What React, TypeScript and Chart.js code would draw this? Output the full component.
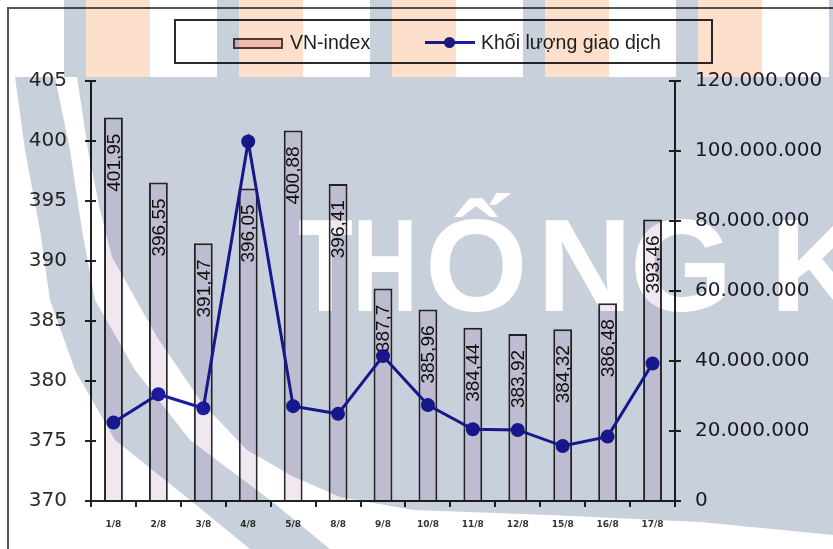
import React, { useEffect, useRef } from "react";
import { Chart, registerables } from "chart.js";

Chart.register(...registerables);

// ---------- data ----------
const categories = ["1/8", "2/8", "3/8", "4/8", "5/8", "8/8", "9/8", "10/8", "11/8", "12/8", "15/8", "16/8", "17/8"];
const vnIndex = [401.95, 396.55, 391.47, 396.05, 400.88, 396.41, 387.7, 385.96, 384.44, 383.92, 384.32, 386.48, 393.46];
const volume = [22400000, 30500000, 26500000, 102700000, 27100000, 24900000, 41400000, 27400000, 20500000, 20300000, 15700000, 18400000, 39300000];
const seriesNames = ["VN-index", "Khối lượng giao dịch"];
const leftAxis = { min: 370, max: 405, step: 5 };
const rightAxis = { min: 0, max: 120000000, step: 20000000 };

// ---------- styling ----------
const W = 833;
const H = 549;
const BAR_FILL = "#f1e7f1";
const BAR_BORDER = "#2a2a2a";
const LINE_COLOR = "#1c1ca0";
const AXIS_COLOR = "#222";
const GRAY = "#c8d0dc";
const ORANGE = "#fde0cc";

const fmtThousands = (v: number) => Math.round(v).toString().replace(/\B(?=(\d{3})+(?!\d))/g, ".");
const fmtDecimal = (v: number) => String(v).replace(".", ",");

const crossTicks = {
  id: "crossTicks",
  afterDraw(chart: any) {
    const ctx = chart.ctx;
    ctx.save();
    ctx.strokeStyle = AXIS_COLOR;
    ctx.lineWidth = 2;
    const y = chart.scales.y;
    const y1 = chart.scales.y1;
    y.ticks.forEach((_t: any, i: number) => {
      const py = Math.round(y.getPixelForTick(i));
      ctx.beginPath();
      ctx.moveTo(y.right, py);
      ctx.lineTo(y.right + 5, py);
      ctx.stroke();
    });
    y1.ticks.forEach((_t: any, i: number) => {
      const py = Math.round(y1.getPixelForTick(i));
      ctx.beginPath();
      ctx.moveTo(y1.left, py);
      ctx.lineTo(y1.left - 6, py);
      ctx.stroke();
    });
    ctx.restore();
  },
};

const barLabels = {
  id: "barLabels",
  afterDatasetsDraw(chart: any) {
    const ctx = chart.ctx;
    const meta = chart.getDatasetMeta(1);
    const data = chart.data.datasets[1].data as number[];
    ctx.save();
    ctx.font = "19px 'Liberation Sans', Arial, sans-serif";
    ctx.fillStyle = "#111";
    meta.data.forEach((el: any, i: number) => {
      ctx.save();
      ctx.translate(el.x + 1, el.y + 16);
      ctx.rotate(-Math.PI / 2);
      ctx.textAlign = "right";
      ctx.textBaseline = "middle";
      ctx.fillText(fmtDecimal(data[i]), 0, 0);
      ctx.restore();
    });
    ctx.restore();
  },
};

function Watermark() {
  const stripes: JSX.Element[] = [];
  for (let k = 0; k < 7; k++) {
    const x0 = -89 + k * 153;
    stripes.push(<rect key={"g" + k} x={x0} y={0} width={22} height={77} fill={GRAY} />);
    stripes.push(<rect key={"o" + k} x={x0 + 22} y={0} width={64} height={77} fill={ORANGE} />);
  }
  const region =
    "77,77 88,150 100,210 112,257 157,337 202,403 247,450 292,476 340,497 413,510 550,515 700,522 833,535 833,77";
  const band =
    "15,77 25,150 40,230 50,300 75,370 115,440 190,500 250,549 330,549 270,500 190,440 135,370 95,300 82,230 70,150 55,77";
  const wmFont = "'Liberation Sans', Arial, sans-serif";
  return (
    <svg
      width={W}
      height={H}
      style={{ position: "absolute", left: 0, top: 0, mixBlendMode: "multiply", pointerEvents: "none" }}
    >
      {stripes}
      <polygon points={region} fill={GRAY} />
      <polygon points={band} fill={GRAY} />
      <text transform="translate(298 311) scale(0.68 1)" fill="#fff" fontFamily={wmFont} fontWeight="bold" fontSize={132}>
        TH
      </text>
      <text y={311} fill="#fff" fontFamily={wmFont} fontWeight="bold" fontSize={132}>
        <tspan x={425}>Ố</tspan>
        <tspan x={537}>N</tspan>
        <tspan x={630}>G</tspan>
        <tspan x={770}>K</tspan>
        <tspan x={865}>Ê</tspan>
      </text>
    </svg>
  );
}

export default function App() {
  const canvasRef = useRef<HTMLCanvasElement | null>(null);

  useEffect(() => {
    if (!canvasRef.current) return;
    const chart = new Chart(canvasRef.current, {
      type: "bar",
      data: {
        labels: categories,
        datasets: [
          {
            type: "line",
            label: seriesNames[1],
            data: volume,
            yAxisID: "y1",
            borderColor: LINE_COLOR,
            backgroundColor: LINE_COLOR,
            borderWidth: 3,
            pointRadius: 7,
            pointBackgroundColor: LINE_COLOR,
            pointBorderWidth: 0,
            tension: 0,
          } as any,
          {
            type: "bar",
            label: seriesNames[0],
            data: vnIndex,
            yAxisID: "y",
            base: leftAxis.min,
            backgroundColor: BAR_FILL,
            borderColor: BAR_BORDER,
            borderWidth: 2,
            barPercentage: 0.42,
            categoryPercentage: 1,
          } as any,
        ],
      },
      options: {
        responsive: false,
        animation: false,
        devicePixelRatio: 1,
        layout: { padding: { top: 81, left: 0, right: 0, bottom: 0 } },
        plugins: { legend: { display: false }, tooltip: { enabled: false } },
        scales: {
          x: {
            offset: true,
            grid: { display: true, drawOnChartArea: false, offset: true, tickLength: 6, color: AXIS_COLOR, lineWidth: 2 },
            border: { display: true, color: AXIS_COLOR, width: 2 },
            ticks: {
              font: { size: 9, weight: "bold", family: "'DejaVu Sans', sans-serif" },
              color: "#333",
              padding: 12,
              maxRotation: 0,
              autoSkip: false,
            },
            afterFit(s: any) {
              s.height = 48;
            },
          },
          y: {
            position: "left",
            min: leftAxis.min,
            max: leftAxis.max,
            ticks: {
              stepSize: leftAxis.step,
              font: { size: 20, family: "'DejaVu Sans', sans-serif" },
              color: "#2a2a2a",
              padding: 18,
            },
            grid: { drawOnChartArea: false, tickLength: 6, color: AXIS_COLOR, lineWidth: 2 },
            border: { display: true, color: AXIS_COLOR, width: 2 },
            afterFit(s: any) {
              s.width = 91;
            },
          },
          y1: {
            position: "right",
            min: rightAxis.min,
            max: rightAxis.max,
            ticks: {
              stepSize: rightAxis.step,
              font: { size: 20, family: "'DejaVu Sans', sans-serif" },
              color: "#1e1e30",
              padding: 14,
              callback: (v: any) => fmtThousands(Number(v)),
            },
            grid: { drawOnChartArea: false, tickLength: 6, color: AXIS_COLOR, lineWidth: 2 },
            border: { display: true, color: AXIS_COLOR, width: 2 },
            afterFit(s: any) {
              s.width = W - 675;
            },
          },
        },
      } as any,
      plugins: [crossTicks, barLabels],
    });
    return () => chart.destroy();
  }, []);

  const legendFont = "'Liberation Sans', Arial, sans-serif";
  return (
    <div
      style={{
        position: "fixed",
        left: 0,
        top: 0,
        width: W,
        height: H,
        background: "#fff",
        overflow: "hidden",
        isolation: "isolate",
      }}
    >
      <div
        style={{
          position: "absolute",
          left: 7,
          top: 7,
          width: 900,
          height: 700,
          border: "2px solid #555",
        }}
      />
      <canvas ref={canvasRef} width={W} height={H} style={{ position: "absolute", left: 0, top: 0 }} />
      <div
        style={{
          position: "absolute",
          left: 174,
          top: 19,
          width: 539,
          height: 45,
          boxSizing: "border-box",
          border: "2px solid #2a2a2a",
          fontFamily: legendFont,
          fontSize: 19.5,
          color: "#222",
        }}
      >
        <div
          style={{
            position: "absolute",
            left: 57,
            top: 17,
            width: 50,
            height: 11,
            boxSizing: "border-box",
            border: "2px solid #5a3c3c",
            background: "#f4d4d4",
          }}
        />
        <div style={{ position: "absolute", left: 114, top: 9, lineHeight: "24px", whiteSpace: "nowrap" }}>{seriesNames[0]}</div>
        <div style={{ position: "absolute", left: 249, top: 20, width: 50, height: 3, background: LINE_COLOR }} />
        <div
          style={{
            position: "absolute",
            left: 268,
            top: 16,
            width: 11,
            height: 11,
            borderRadius: "50%",
            background: LINE_COLOR,
          }}
        />
        <div style={{ position: "absolute", left: 305, top: 9, lineHeight: "24px", whiteSpace: "nowrap" }}>{seriesNames[1]}</div>
      </div>
      <Watermark />
    </div>
  );
}
